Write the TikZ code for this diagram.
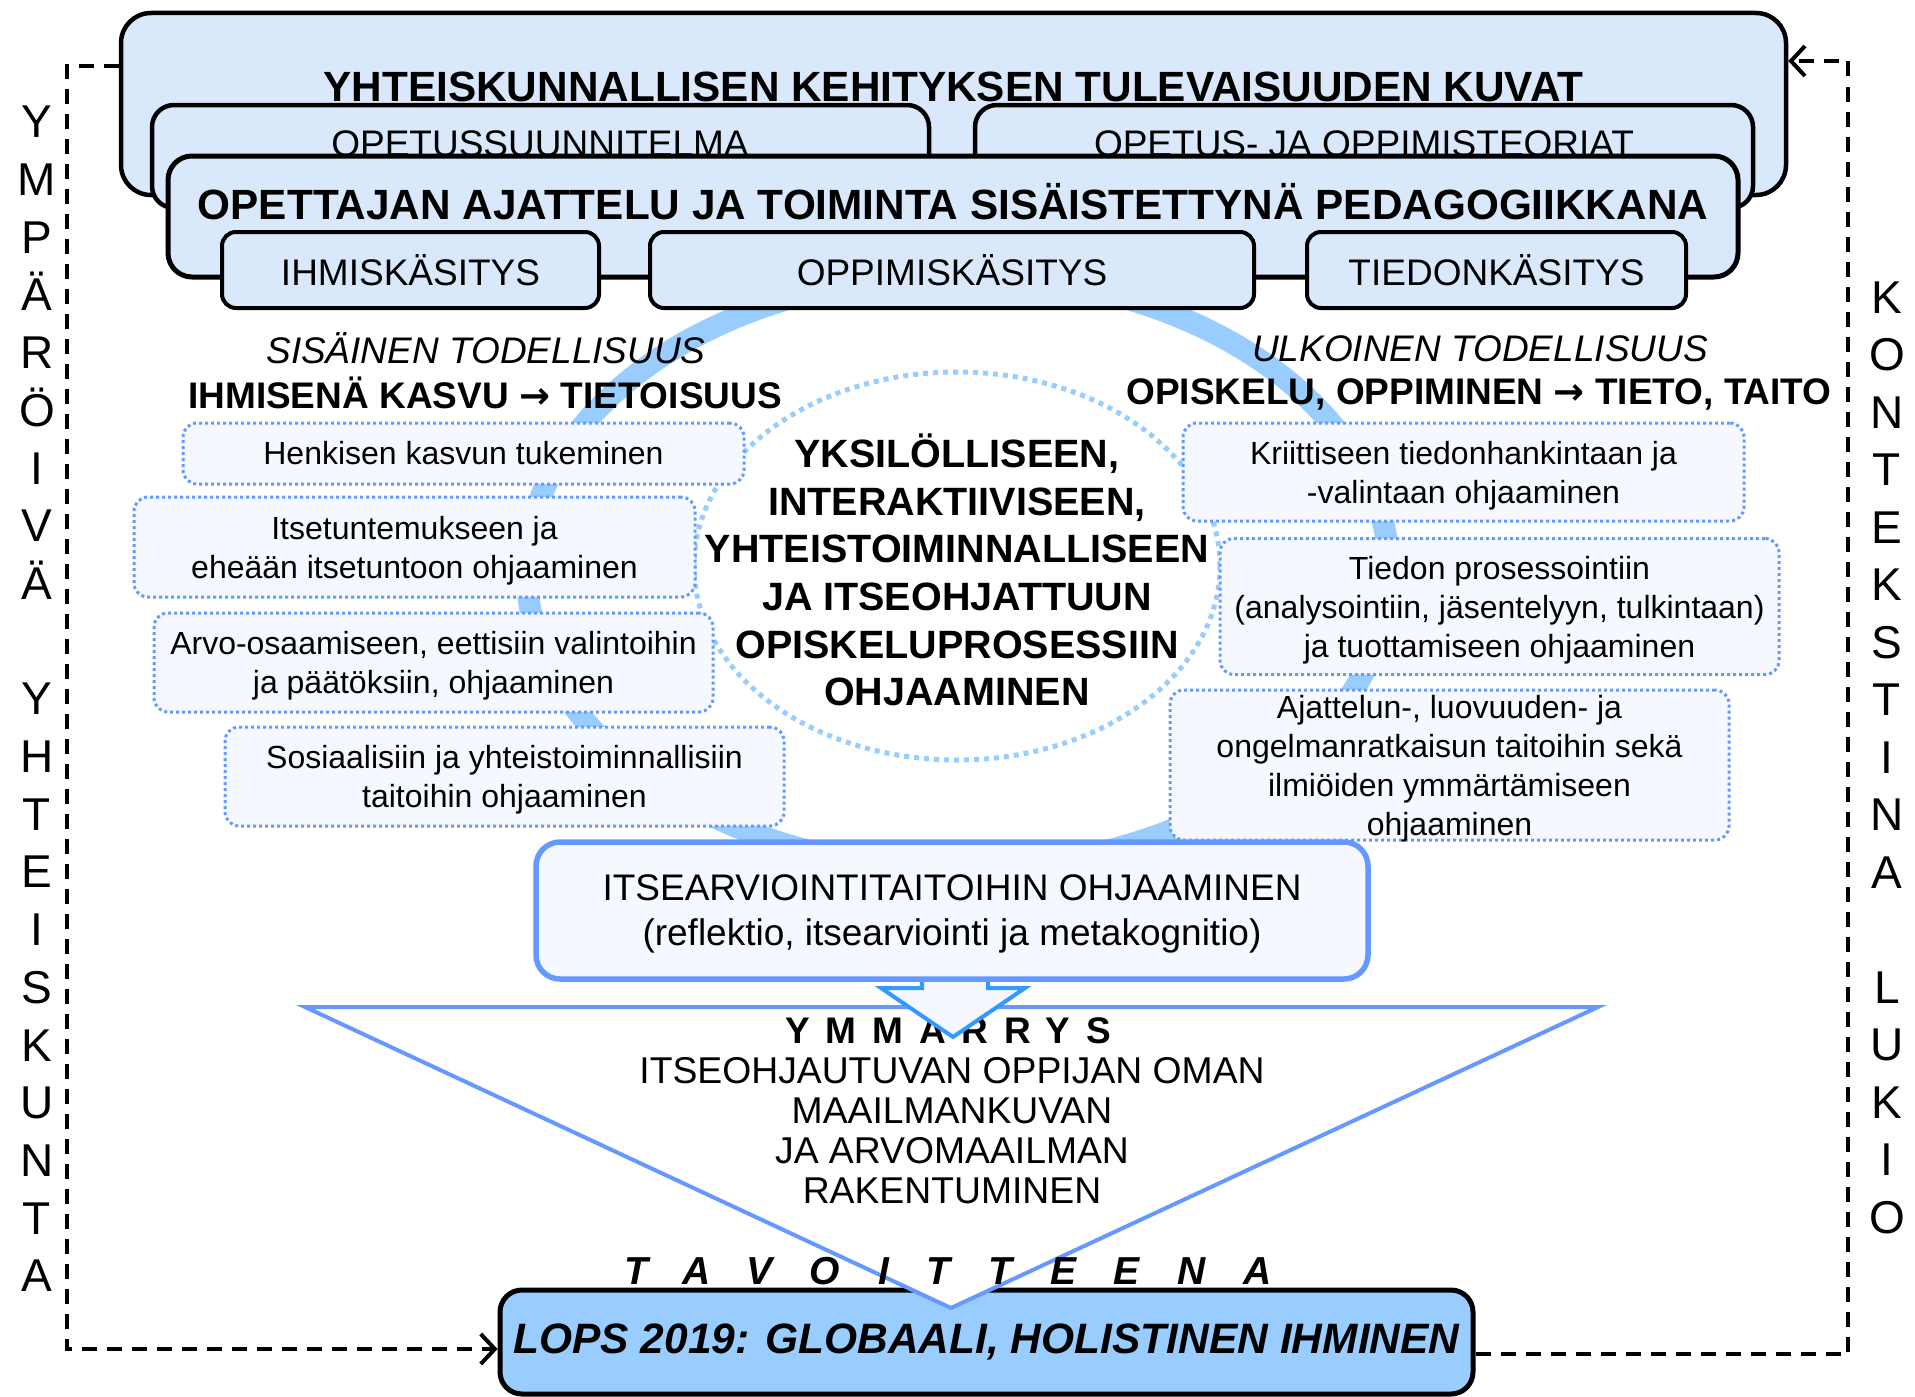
\documentclass[tikz,border=0pt]{standalone}
\usepackage{fontspec}
\setmainfont{Liberation Sans}
\newfontfamily\arrowfont{DejaVu Sans}
\usepackage{tikz}
\usetikzlibrary{shapes,arrows.meta,backgrounds,positioning}

\definecolor{panelblue}{RGB}{218,232,252}
\definecolor{ringblue}{RGB}{153,204,255}
\definecolor{rimblue}{RGB}{102,153,255}
\definecolor{paleblue}{RGB}{245,248,255}
\definecolor{tipblue}{RGB}{51,153,255}

\newcommand{\fsz}[2]{\fontsize{#1pt}{#2pt}\selectfont}
\newcommand{\toarrow}{{\arrowfont\bfseries →}}

\begin{document}
\begin{tikzpicture}[x=1pt, y=-1pt]
	\tikzstyle{Panel} 	= [rectangle, draw=black, line width=4.5pt, fill=panelblue, rounded corners=30pt, inner sep=0pt]
	\tikzstyle{Tab}		= [rectangle, draw=black, line width=4pt, fill=panelblue, rounded corners=14pt, inner sep=0pt, minimum height=76pt, font=\fsz{37}{44}]
	\tikzstyle{Aim}		= [rectangle, draw=rimblue, line width=3pt, dash pattern=on 3pt off 3pt, fill=paleblue, rounded corners=14pt, inner sep=0pt, align=center, font=\fsz{32}{39}]
	\tikzstyle{Low}		= [text depth=-3pt]
	\tikzstyle{Ring}	= [draw=ringblue, line width=22pt]
	\tikzstyle{Halo}	= [draw=ringblue, line width=5pt, dash pattern=on 5pt off 5pt]
	\tikzstyle{Title}	= [inner sep=0pt, font=\bfseries\fsz{42.3}{48}]
	\tikzstyle{Plain}	= [inner sep=0pt, font=\fsz{37}{44}]
	\tikzstyle{Link}	= [draw=black, line width=4pt, dash pattern=on 15pt off 10pt, -{Straight Barb[length=14pt, width=30pt]}]

	\useasboundingbox (0,0) rectangle (1915,1397);

	% ring and inner circle
	\draw [Ring] (958,572) ellipse [x radius=431pt, y radius=297pt];
	\draw [Halo] (957,566) ellipse [x radius=263pt, y radius=194pt];

	% stacked panels
	\node (soc) at (953.5,104) [Panel, minimum width=1665pt, minimum height=182pt] {};
	\node (socT) at (953.5,87) [Title] {YHTEISKUNNALLISEN KEHITYKSEN TULEVAISUUDEN KUVAT};
	\node (ops) at (540.5,156.5) [Panel, rounded corners=22pt, minimum width=777pt, minimum height=103pt] {};
	\node (opsT) at (540,143.5) [Plain] {OPETUSSUUNNITELMA};
	\node (theo) at (1364,156.5) [Panel, rounded corners=22pt, minimum width=778pt, minimum height=103pt] {};
	\node (theoT) at (1364,143.5) [Plain] {OPETUS- JA OPPIMISTEORIAT};
	\node (tch) at (953,216.5) [Panel, line width=5pt, rounded corners=24pt, minimum width=1570pt, minimum height=121pt] {};
	\node (tchT) at (953,201.5) [Title] {OPETTAJAN AJATTELU JA TOIMINTA SISÄISTETTYNÄ PEDAGOGIIKKANA};

	\node (man) at (410.5,270) [Tab, minimum width=377pt] {IHMISKÄSITYS};
	\node (lrn) at (952,270) [Tab, minimum width=604pt] {OPPIMISKÄSITYS};
	\node (knw) at (1496.5,270) [Tab, minimum width=379pt] {TIEDONKÄSITYS};

	% headings
	\node (inner) at (486,348) [Plain, font=\itshape\fsz{37}{44}] {SISÄINEN TODELLISUUS};
	\node (grow) at (485,393) [Plain, font=\bfseries\fsz{37}{44}] {IHMISENÄ KASVU \toarrow{} TIETOISUUS};
	\node (outer) at (1480,349) [Plain, font=\itshape\fsz{37}{44}] {ULKOINEN TODELLISUUS};
	\node (study) at (1479,394) [Plain, font=\bfseries\fsz{37}{44}] {OPISKELU, OPPIMINEN \toarrow{} TIETO, TAITO};

	\node (core) at (957,570) [align=center, inner sep=0pt, font=\bfseries\fsz{39.5}{47.6}] {YKSILÖLLISEEN,\\INTERAKTIIVISEEN,\\YHTEISTOIMINNALLISEEN\\JA ITSEOHJATTUUN\\OPISKELUPROSESSIIN\\OHJAAMINEN};

	% left aims
	\node (hk) at (463.5,453.5) [Aim, minimum width=561pt, minimum height=61pt] {Henkisen kasvun tukeminen};
	\node (it) at (414.5,547) [Aim, Low, minimum width=561pt, minimum height=100pt] {Itsetuntemukseen ja\\eheään itsetuntoon ohjaaminen};
	\node (arvo) at (433.5,662.5) [Aim, Low, minimum width=559pt, minimum height=99pt] {Arvo-osaamiseen, eettisiin valintoihin\\ja päätöksiin, ohjaaminen};
	\node (sos) at (504.5,776.5) [Aim, Low, minimum width=559pt, minimum height=99pt] {Sosiaalisiin ja yhteistoiminnallisiin\\taitoihin ohjaaminen};

	% right aims
	\node (krit) at (1463.5,472) [Aim, Low, minimum width=561pt, minimum height=98pt] {Kriittiseen tiedonhankintaan ja\\-valintaan ohjaaminen};
	\node (tied) at (1499.5,606.5) [Aim, Low, minimum width=559pt, minimum height=136pt] {Tiedon prosessointiin\\(analysointiin, jäsentelyyn, tulkintaan)\\ja tuottamiseen ohjaaminen};
	\node (ajat) at (1449.5,765) [Aim, Low, minimum width=559pt, minimum height=150pt] {Ajattelun-, luovuuden- ja\\ongelmanratkaisun taitoihin sekä\\ilmiöiden ymmärtämiseen\\ohjaaminen};

	% goal box, funnel and arrow
	\node (lops) at (986.5,1342) [rectangle, draw=black, line width=5pt, fill=ringblue, rounded corners=22pt, minimum width=973pt, minimum height=104pt, inner sep=0pt, font=\bfseries\itshape\fsz{42.5}{48}] {LOPS 2019: GLOBAALI, HOLISTINEN IHMINEN};

	\draw [draw=rimblue, line width=4pt, fill=white, line join=miter] (305,1007) -- (1598,1007) -- (951,1308) -- cycle;

	\node (ymm) at (948,1031) [inner sep=0pt, font=\bfseries\fsz{37}{44}\addfontfeatures{LetterSpace=43}] {YMMARRYS};
	\node (world) at (952,1131) [align=center, inner sep=0pt, font=\fsz{37.3}{40}] {ITSEOHJAUTUVAN OPPIJAN OMAN\\MAAILMANKUVAN\\JA ARVOMAAILMAN\\RAKENTUMINEN};
	\node (aim) at (948,1271) [inner sep=0pt, font=\bfseries\itshape\fsz{39}{44}\addfontfeatures{LetterSpace=97}] {TAVOITTEENA};

	\draw [draw=tipblue, line width=4pt, fill=paleblue] (922,960) -- (922,988) -- (881,988) -- (953,1037) -- (1025,988) -- (988,988) -- (988,960) -- cycle;

	\node (self) at (952,910.5) [rectangle, draw=rimblue, line width=5.5pt, fill=paleblue, rounded corners=24pt, minimum width=832pt, minimum height=137pt, inner sep=0pt, align=center, font=\fsz{37}{45}, Low] {ITSEARVIOINTITAITOIHIN OHJAAMINEN\\(reflektio, itsearviointi ja metakognitio)};

	% side texts
	\node (env) at (37,699) [align=center, inner sep=0pt, font=\fsz{46}{57.7}] {Y\\M\\P\\Ä\\R\\Ö\\I\\V\\Ä\\[57.7pt]Y\\H\\T\\E\\I\\S\\K\\U\\N\\T\\A};
	\node (ctx) at (1887,757.5) [align=center, inner sep=0pt, font=\fsz{46}{57.5}] {K\\O\\N\\T\\E\\K\\S\\T\\I\\N\\A\\[57.5pt]L\\U\\K\\I\\O};

	% feedback links
	\coordinate (lt) at (67,66);
	\coordinate (lb) at (67,1349);
	\coordinate (rb) at (1848,1354);
	\coordinate (rt) at (1848,61);
	\draw [Link] (soc.west |- lt) -- (lt) -- (lb) -- (lops.west |- lb);
	\draw [Link] (lops.east |- rb) -- (rb) -- (rt) -- (soc.east |- rt);
\end{tikzpicture}
\end{document}
